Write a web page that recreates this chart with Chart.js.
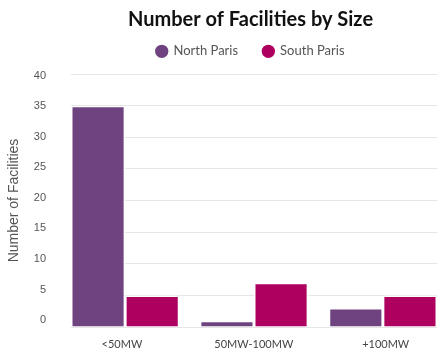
<!DOCTYPE html>
<html><head><meta charset="utf-8">
<script src="https://cdn.jsdelivr.net/npm/chart.js@4"></script>
<style>html,body{margin:0;padding:0;overflow:hidden;background:#fff}#wrap{position:relative;width:501px;height:355px}</style>
</head><body><div id="wrap"><canvas id="c" width="501" height="355"></canvas></div>
<script>
const categories = ['<50MW', '50MW-100MW', '+100MW'];
const northParis = [35, 1, 3];
const southParis = [5, 7, 5];
const seriesNames = ['North Paris', 'South Paris'];
const yTicks = [0, 5, 10, 15, 20, 25, 30, 35, 40];

const toPoints = arr => arr.map((v, i) => ({ x: i, y: v }));

new Chart(document.getElementById('c'), {
  type: 'bar',
  data: {
    datasets: [
      { label: seriesNames[0], xAxisID: 'x', yAxisID: 'y', data: toPoints(northParis), backgroundColor: '#6e4380', borderColor: '#ffffff', borderWidth: 1.5, borderSkipped: 'bottom' },
      { label: seriesNames[1], xAxisID: 'x', yAxisID: 'y', data: toPoints(southParis), backgroundColor: '#ad005f', borderColor: '#ffffff', borderWidth: 1.5, borderSkipped: 'bottom' }
    ]
  },
  options: {
    responsive: false,
    animation: false,
    devicePixelRatio: 1,
    layout: { padding: 0 },
    datasets: { bar: { categoryPercentage: 0.84, barPercentage: 1 } },
    plugins: {
      title: { display: true, text: 'Number of Facilities by Size', color: '#111', font: { family: 'Lato', size: 20, weight: 'bold' }, padding: { top: 8, bottom: -12.2 } },
      subtitle: { display: true, text: ' ', weight: 500, font: { size: 5, lineHeight: 1 }, padding: { top: 0, bottom: 1.2 } },
      legend: { labels: { usePointStyle: true, pointStyle: 'circle', boxWidth: 10.5, boxHeight: 10.5, color: '#555', font: { family: 'Lato', size: 13 }, padding: 25 } },
      tooltip: { enabled: false }
    },
    scales: {
      x: {
        type: 'linear', min: -0.42, max: 2.42, offset: false, position: 'bottom',
        afterBuildTicks: s => { s.ticks = categories.map((c, i) => ({ value: i })); },
        afterFit: s => { s.height = 0; },
        ticks: { display: false },
        grid: { display: false, offset: false, drawTicks: false },
        border: { display: false }
      },
      xLabels: {
        type: 'linear', min: -0.386, max: 2.389, offset: false, position: 'bottom',
        afterBuildTicks: s => { s.ticks = categories.map((c, i) => ({ value: i })); },
        afterFit: s => { s.height = 28; },
        ticks: { callback: v => categories[v], color: '#444', font: { family: 'Lato', size: 11 }, padding: 11, autoSkip: false, maxRotation: 0 },
        grid: { display: false, drawTicks: false },
        border: { display: false }
      },
      y: {
        min: 0, max: 40, position: 'left',
        afterFit: s => { s.width = 0; },
        ticks: { stepSize: 5, display: false, padding: 0 },
        grid: { color: '#e6e6e6', drawTicks: false },
        border: { display: false }
      },
      yLabels: {
        type: 'linear', min: -1.145, max: 40.28, position: 'left',
        afterBuildTicks: s => { s.ticks = yTicks.map(v => ({ value: v })); },
        afterFit: s => { s.width = 71; },
        ticks: { color: '#555', font: { family: 'Liberation Sans', size: 11 }, padding: 0 },
        grid: { display: false, drawTicks: true, tickLength: 25 },
        border: { display: false },
        title: { display: true, text: 'Number of Facilities', color: '#555', font: { family: 'Liberation Sans', size: 14 }, padding: { top: 6, bottom: 4 } }
      },
      ySpacer: {
        position: 'right', display: true,
        afterFit: s => { s.width = 64; },
        ticks: { display: false, padding: 0 },
        grid: { display: false, drawTicks: false },
        border: { display: false }
      }
    }
  }
});
</script></body></html>
